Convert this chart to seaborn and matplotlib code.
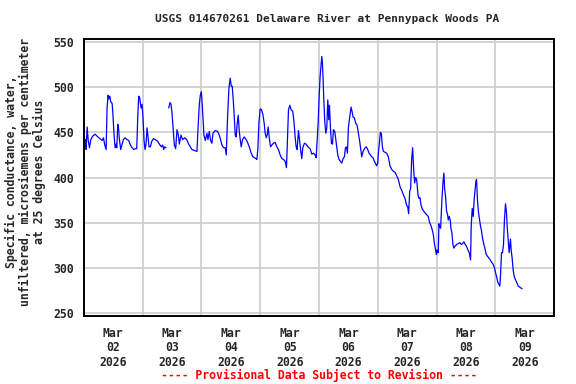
import numpy as np
import pandas as pd
import matplotlib
matplotlib.use('Agg')
import matplotlib.pyplot as plt
import seaborn as sns

# Hours since Mar 02 2026 00:00 (gap in the data near hour 34)
hours_a = [0, 0.41, 0.68, 0.95, 1.36, 1.77, 2.31, 2.85, 3.67, 4.62, 5.71, 6.66, 7.47, 8.01,
           8.56, 9.10, 9.51, 9.92, 10.19, 10.60, 11.0, 11.55, 11.82, 12.36, 12.77, 13.18,
           13.45, 13.86, 14.13, 14.53, 15.08, 15.62, 16.16, 16.84, 17.66, 18.34, 19.02,
           19.70, 20.38, 21.05, 21.60, 22.0, 22.41, 22.82, 23.36, 23.77, 24.18, 24.59,
           24.99, 25.40, 25.81, 26.22, 26.62, 27.17, 27.71, 28.39, 29.21, 30.16, 31.10,
           31.65, 32.19, 32.6, 33.0, 33.55]
cond_a = [460, 433, 442, 431, 456, 442, 433, 442, 446, 448, 445, 443, 441, 444,
          436, 431, 478, 491, 487, 490, 484, 482, 472, 447, 433, 437,
          433, 459, 456, 442, 431, 437, 442, 444, 442, 441, 436,
          433, 431, 432, 432, 466, 490, 488, 477, 481, 465, 441,
          431, 437, 455, 445, 434, 434, 440, 443, 442, 440, 436,
          434, 436, 431, 434, 433]

hours_b = [34.64, 35.18, 35.59, 36.0, 36.4, 36.95, 37.49, 38.03, 38.58, 38.98, 39.66, 40.34,
           41.16, 41.97, 42.79, 43.47, 44.15, 45.10, 46.18, 46.59, 47.13, 47.54, 47.95,
           48.22, 48.63, 49.03, 49.58, 50.26, 50.66, 51.21, 51.75, 52.29, 52.70, 53.65,
           54.6, 55.28, 55.82, 56.37, 57.05, 57.72, 58.13, 58.67, 59.22, 59.76, 60.17,
           60.58, 60.98, 61.39, 61.8, 62.2, 62.61, 63.02, 63.43, 63.83, 64.24, 64.79,
           65.46, 66.28, 66.96, 67.64, 68.32, 69.0, 69.67, 70.22, 70.63, 71.03, 71.44,
           71.98, 72.53, 73.07, 73.61, 74.02, 74.43, 74.83, 75.24, 75.65, 76.19, 76.74,
           77.42, 78.09, 78.77, 79.45, 80.13, 80.81, 81.49, 82.17, 82.71, 83.12, 83.53,
           84.07, 84.61, 85.29, 85.83, 86.24, 86.65, 87.06, 87.6, 88.01, 88.55, 88.96,
           89.37, 90.04, 90.72, 91.4, 92.37, 93.05, 93.73, 94.41, 94.81, 95.22, 95.63,
           96.04, 96.44, 96.85, 97.12, 97.39, 97.67, 97.94, 98.34, 98.75, 99.16, 99.57,
           99.97, 100.25, 100.65, 101.06, 101.47, 101.88, 102.42, 102.83, 103.23, 103.64,
           104.18, 104.73, 105.27, 105.81, 106.36, 106.76, 107.17, 107.58, 107.99, 108.53,
           109.07, 109.48, 109.89, 110.43, 110.97, 111.52, 112.06, 112.6, 113.01, 113.42,
           113.96, 114.78, 115.32, 115.86, 116.41, 116.95, 117.49, 118.04, 118.58, 119.12,
           119.53, 119.94, 120.21, 120.62, 121.02, 121.43, 121.84, 122.25, 122.92, 123.6,
           124.28, 124.96, 125.64, 126.32, 127.0, 127.68, 128.36, 129.04, 129.72, 130.4,
           131.08, 131.76, 132.16, 132.57, 132.98, 133.38, 133.79, 134.2, 134.61, 135.01,
           135.42, 135.83, 136.37, 136.78, 137.19, 137.59, 138.14, 138.68, 139.22, 139.9,
           140.58, 141.13, 141.67, 142.21, 142.62, 143.03, 143.43, 143.84, 144.11, 144.38,
           144.66, 144.93, 145.2, 145.61, 146.15, 146.56, 146.96, 147.24, 147.64, 148.05,
           148.46, 148.73, 149.14, 149.54, 149.82, 150.22, 150.63, 151.04, 151.45, 152.13,
           152.8, 153.48, 154.03, 154.57, 155.11, 155.66, 156.2, 156.74, 157.29, 157.83,
           158.1, 158.51, 158.92, 159.32, 159.73, 160.0, 160.27, 160.68, 161.09, 161.5,
           161.9, 162.31, 162.72, 163.26, 163.67, 164.21, 164.75, 165.3, 165.84, 166.52,
           167.06, 167.61, 168.01, 168.56, 168.96, 169.37, 169.78, 170.05, 170.46, 170.87,
           171.27, 171.68, 172.09, 172.5, 172.77, 173.17, 173.58, 173.85, 174.12, 174.4,
           174.8, 175.21, 175.62, 176.16, 176.7, 177.25, 177.79, 178.33, 178.88]
cond_b = [477, 483, 481, 471, 456, 436, 432, 453, 447, 437, 447, 442,
          444, 442, 437, 434, 431, 430, 429, 453, 481, 491, 495,
          486, 466, 447, 441, 449, 442, 451, 441, 438, 449, 452,
          451, 447, 442, 436, 433, 433, 425, 467, 499, 510, 501,
          501, 486, 468, 447, 445, 460, 469, 452, 442, 434, 442,
          445, 442, 438, 433, 427, 423, 422, 421, 420, 432, 460,
          476, 475, 470, 460, 449, 444, 447, 456, 445, 434, 436,
          438, 439, 434, 431, 425, 421, 420, 418, 411, 442, 475,
          480, 475, 473, 460, 445, 434, 431, 452, 442, 429, 421,
          433, 438, 437, 434, 432, 426, 427, 425, 422, 442, 460,
          490, 512, 526, 534, 526, 508, 486, 462, 449, 455, 486,
          464, 480, 455, 438, 437, 453, 451, 442, 434, 425,
          420, 418, 416, 421, 423, 433, 434, 427, 456, 467,
          478, 473, 467, 466, 460, 458, 449, 440, 431, 423,
          429, 433, 434, 431, 427, 425, 423, 422, 418, 415,
          413, 416, 427, 438, 450, 449, 434, 429, 428, 427,
          423, 413, 409, 407, 406, 402, 398, 390, 386, 381,
          377, 369, 368, 360, 385, 388, 420, 433, 409, 394,
          400, 398, 381, 377, 378, 370, 365, 363, 361, 359,
          357, 350, 347, 342, 337, 328, 322, 315, 320, 317,
          317, 349, 346, 344, 376, 394, 405, 388, 379, 363,
          359, 353, 357, 353, 344, 339, 326, 322, 324, 326,
          327, 328, 326, 327, 329, 326, 324, 320, 317, 309,
          346, 366, 357, 376, 388, 396, 398, 374, 361, 353,
          346, 341, 333, 326, 322, 315, 313, 311, 309, 306,
          304, 300, 295, 289, 284, 282, 280, 291, 317, 317,
          326, 354, 371, 361, 346, 332, 317, 324, 332, 320,
          311, 298, 291, 287, 284, 280, 279, 278, 277]

day_labels = ['Mar\n02\n2026', 'Mar\n03\n2026', 'Mar\n04\n2026', 'Mar\n05\n2026',
              'Mar\n06\n2026', 'Mar\n07\n2026', 'Mar\n08\n2026', 'Mar\n09\n2026']
y_ticks = [250, 300, 350, 400, 450, 500, 550]

df = pd.DataFrame({
    'hour': hours_a + hours_b,
    'cond': cond_a + cond_b,
    'seg': [0] * len(hours_a) + [1] * len(hours_b),
})

sns.set_style('white')
plt.rcParams['font.family'] = ['DejaVu Sans Mono']
plt.rcParams['font.weight'] = 'bold'

fig = plt.figure(figsize=(5.76, 3.84), dpi=100)
ax = fig.add_axes([0.1455, 0.178, 0.8168, 0.7205])

sns.lineplot(data=df, x='hour', y='cond', units='seg', estimator=None,
             color='#0000ff', linewidth=0.9, ax=ax)

ax.set_xlim(0, 192)
ax.set_ylim(247.3, 553.3)

# labels at noon, grid lines at midnight
ax.set_xticks([12 + 24 * i for i in range(8)])
ax.set_xticklabels(day_labels, fontsize=8.3, fontweight='bold', linespacing=1.17)
ax.set_xticks([24 * i for i in range(1, 8)], minor=True)
ax.set_yticks(y_ticks)
ax.set_yticklabels([str(v) for v in y_ticks], fontsize=8.3, fontweight='bold')
ax.tick_params(axis='both', which='both', length=0)
ax.tick_params(axis='x', pad=8)
ax.tick_params(axis='y', pad=7)

ax.grid(False)
ax.grid(True, which='minor', axis='x', color='#cccccc', linewidth=1.2)
ax.grid(True, which='major', axis='y', color='#cccccc', linewidth=1.2)
ax.set_axisbelow(True)
for s in ax.spines.values():
    s.set_color('black')
    s.set_linewidth(1.4)

ax.set_xlabel('')
ax.set_ylabel('')

fig.text(25 / 576, 1 - 172 / 384,
         'Specific conductance, water,\nunfiltered, microsiemens per centimeter\nat 25 degrees Celsius',
         rotation=90, ha='center', va='center', multialignment='center',
         fontsize=8.3, fontweight='bold', linespacing=1.09)
fig.text(327 / 576, 1 - 19 / 384, 'USGS 014670261 Delaware River at Pennypack Woods PA',
         ha='center', va='center', fontsize=8, fontweight='bold')
fig.text(319 / 576, 1 - 375 / 384, '---- Provisional Data Subject to Revision ----',
         ha='center', va='center', fontsize=8.3, fontweight='bold', color='red')

fig.savefig('out.png', dpi=100)
